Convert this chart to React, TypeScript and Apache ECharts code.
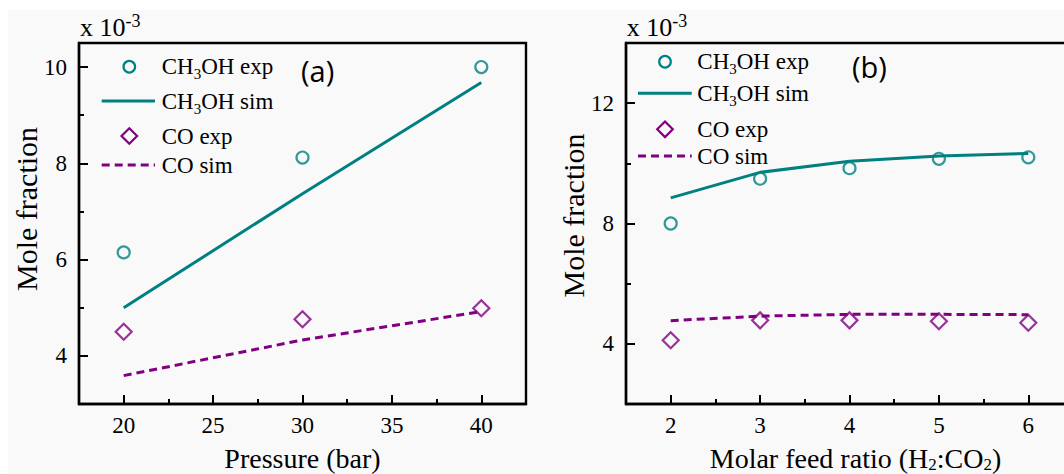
import React, { useEffect, useRef } from 'react';
import * as echarts from 'echarts';

// ---------- data (values in units of 10^-3) ----------
const pressure = [20, 30, 40];
const ch3ohExpA = [6.15, 8.12, 10.0];
const ch3ohSimA = [5.0, 7.37, 9.68];
const coExpA = [4.5, 4.76, 4.99];
const coSimA = [3.59, 4.33, 4.92];

const feedRatio = [2, 3, 4, 5, 6];
const ch3ohExpB = [8.0, 9.49, 9.84, 10.15, 10.2];
const ch3ohSimB = [8.85, 9.7, 10.07, 10.24, 10.33];
const coExpB = [4.12, 4.78, 4.78, 4.75, 4.7];
const coSimB = [4.77, 4.92, 4.98, 4.98, 4.97];

// ---------- tick labels ----------
const pressureTicks = [20, 25, 30, 35, 40];
const pressureMinorTicks = [22.5, 27.5, 32.5, 37.5];
const ratioTicks = [2, 3, 4, 5, 6];
const ratioMinorTicks = [2.5, 3.5, 4.5, 5.5];
const fractionTicksA = [4, 6, 8, 10];
const fractionMinorTicksA = [5, 7, 9];
const fractionTicksB = [4, 8, 12];
const fractionMinorTicksB = [6, 10];

const legendNames = ['CH3OH exp', 'CH3OH sim', 'CO exp', 'CO sim'];
const panelLabels = ['(a)', '(b)'];
const xNames = ['Pressure (bar)', 'Molar feed ratio (H{sub|2}:CO{sub|2})'];
const yName = 'Mole fraction';
const multiplier = 'x 10{sup|-3}';

const TEAL = '#008080';
const PURPLE = '#800080';
const SERIF = '"Liberation Serif", "Times New Roman", serif';
const SANS = '"Open Sans", "Noto Sans", sans-serif';
const FRAME = 2.4;

const subRich = {
  sub: { fontSize: 15, lineHeight: 14, verticalAlign: 'bottom', fontFamily: SERIF, fill: '#000', color: '#000' },
};

const pairs = (xs: number[], ys: number[]) => xs.map((x, i) => [x, ys[i]]);

const xMajor = (gridIndex: number, min: number, max: number, ticks: number[], name: string, pad: number) => ({
  type: 'value', gridIndex, min, max, position: 'bottom',
  axisLine: { show: true, onZero: false, lineStyle: { color: '#000', width: FRAME } },
  axisTick: { show: true, inside: true, length: 9, customValues: ticks, lineStyle: { color: '#000', width: 2 } },
  axisLabel: { show: true, customValues: ticks, margin: 10, fontSize: 23, fontFamily: SERIF, color: '#000' },
  splitLine: { show: false },
  minorTick: { show: false },
  name, nameLocation: 'middle', nameGap: 39, nameMoveOverlap: false,
  nameTextStyle: {
    fontSize: 28, fontFamily: SERIF, color: '#000', lineHeight: 30, padding: [0, 0, 0, pad],
    rich: { sub: { fontSize: 17, lineHeight: 20, verticalAlign: 'bottom', fontFamily: SERIF, color: '#000' } },
  },
});

const xMinor = (gridIndex: number, min: number, max: number, ticks: number[]) => ({
  type: 'value', gridIndex, min, max, position: 'bottom',
  axisLine: { show: false, onZero: false },
  axisTick: { show: true, inside: true, length: 5, customValues: ticks, lineStyle: { color: '#000', width: 2 } },
  axisLabel: { show: false },
  splitLine: { show: false },
});

const yMajor = (gridIndex: number, min: number, max: number, ticks: number[], pad: number) => ({
  type: 'value', gridIndex, min, max, position: 'left',
  axisLine: { show: true, onZero: false, lineStyle: { color: '#000', width: FRAME } },
  axisTick: { show: true, inside: true, length: 9, customValues: ticks, lineStyle: { color: '#000', width: 2 } },
  axisLabel: { show: true, customValues: ticks, margin: 12, fontSize: 23, fontFamily: SERIF, color: '#000' },
  splitLine: { show: false },
  name: yName, nameLocation: 'middle', nameGap: 38, nameMoveOverlap: false,
  nameTextStyle: { fontSize: 30, fontFamily: SERIF, color: '#000', padding: [0, 0, 0, pad] },
});

const yMinor = (gridIndex: number, min: number, max: number, ticks: number[]) => ({
  type: 'value', gridIndex, min, max, position: 'left',
  axisLine: { show: false, onZero: false },
  axisTick: { show: true, inside: true, length: 5, customValues: ticks, lineStyle: { color: '#000', width: 2 } },
  axisLabel: { show: false },
  splitLine: { show: false },
});

const panelSeries = (axis: number, xs: number[], chExp: number[], chSim: number[], coE: number[], coS: number[]) => [
  {
    type: 'line', name: legendNames[1], xAxisIndex: axis, yAxisIndex: axis, data: pairs(xs, chSim),
    symbol: 'none', lineStyle: { color: TEAL, width: 3 }, itemStyle: { color: TEAL }, z: 2,
  },
  {
    type: 'line', name: legendNames[3], xAxisIndex: axis, yAxisIndex: axis, data: pairs(xs, coS),
    symbol: 'none', lineStyle: { color: PURPLE, width: 3, type: [8, 5] }, itemStyle: { color: PURPLE }, z: 2,
  },
  {
    type: 'scatter', name: legendNames[0], xAxisIndex: axis, yAxisIndex: axis, data: pairs(xs, chExp),
    symbol: 'circle', symbolSize: 12,
    itemStyle: { color: 'rgba(0,0,0,0)', borderColor: TEAL, borderWidth: 2.2 }, z: 3,
  },
  {
    type: 'scatter', name: legendNames[2], xAxisIndex: axis, yAxisIndex: axis, data: pairs(xs, coE),
    symbol: 'diamond', symbolSize: 16,
    itemStyle: { color: 'rgba(0,0,0,0)', borderColor: PURPLE, borderWidth: 2.2 }, z: 3,
  },
];

const richName = (n: string) => n.replace('CH3OH', 'CH{sub|3}OH');

const legendGraphics = (lx1: number, lx2: number, mcx: number, tx: number, ys: number[]) => {
  const txt = (name: string, y: number) => ({
    type: 'text', x: tx, y, silent: true,
    style: {
      text: richName(name), fontSize: 23, fontFamily: SERIF, fill: '#000', lineHeight: 30,
      align: 'left', verticalAlign: 'middle', textAlign: 'left', textVerticalAlign: 'middle',
      rich: subRich,
    },
  });
  const d = 7.8;
  return [
    { type: 'circle', silent: true, shape: { cx: mcx, cy: ys[0], r: 5.8 }, style: { fill: 'none', stroke: TEAL, lineWidth: 2.2 } },
    txt(legendNames[0], ys[0]),
    { type: 'line', silent: true, shape: { x1: lx1, y1: ys[1], x2: lx2, y2: ys[1] }, style: { stroke: TEAL, lineWidth: 3 } },
    txt(legendNames[1], ys[1]),
    {
      type: 'polygon', silent: true,
      shape: { points: [[mcx, ys[2] - d], [mcx + d, ys[2]], [mcx, ys[2] + d], [mcx - d, ys[2]]] },
      style: { fill: 'none', stroke: PURPLE, lineWidth: 2.2 },
    },
    txt(legendNames[2], ys[2]),
    { type: 'line', silent: true, shape: { x1: lx1, y1: ys[3], x2: lx2, y2: ys[3] }, style: { stroke: PURPLE, lineWidth: 3, lineDash: [8, 5] } },
    txt(legendNames[3], ys[3]),
  ];
};

const textEl = (text: string, x: number, y: number, fontSize: number, family: string, rich?: any) => ({
  type: 'text', x, y, silent: true,
  style: {
    text, fontSize, fontFamily: family, fill: '#000', lineHeight: 30,
    align: 'left', verticalAlign: 'middle', textAlign: 'left', textVerticalAlign: 'middle',
    rich,
  },
});

const supRich = { sup: { fontSize: 18, lineHeight: 18, verticalAlign: 'top', fontFamily: SERIF, fill: '#000' } };

export default function App() {
  const ref = useRef<HTMLDivElement>(null);
  useEffect(() => {
    if (!ref.current) return;
    const chart = echarts.init(ref.current, undefined, { renderer: 'svg' });
    const option: any = {
      animation: false,
      backgroundColor: 'transparent',
      textStyle: { fontFamily: SERIF },
      grid: [
        { left: 79, top: 43, width: 447, height: 361, show: true, borderColor: '#000', borderWidth: FRAME, backgroundColor: 'transparent', containLabel: false, outerBoundsMode: 'none' },
        { left: 626, top: 43, width: 447, height: 361, show: true, borderColor: '#000', borderWidth: FRAME, backgroundColor: 'transparent', containLabel: false, outerBoundsMode: 'none' },
      ],
      xAxis: [
        xMajor(0, 17.5, 42.5, pressureTicks, xNames[0], 0),
        xMajor(1, 1.5, 6.5, ratioTicks, xNames[1], 12),
        xMinor(0, 17.5, 42.5, pressureMinorTicks),
        xMinor(1, 1.5, 6.5, ratioMinorTicks),
      ],
      yAxis: [
        yMajor(0, 3, 10.5, fractionTicksA, 29),
        yMajor(1, 2, 14, fractionTicksB, 16),
        yMinor(0, 3, 10.5, fractionMinorTicksA),
        yMinor(1, 2, 14, fractionMinorTicksB),
      ],
      series: [
        ...panelSeries(0, pressure, ch3ohExpA, ch3ohSimA, coExpA, coSimA),
        ...panelSeries(1, feedRatio, ch3ohExpB, ch3ohSimB, coExpB, coSimB),
      ],
      graphic: [
        ...legendGraphics(101.7, 155, 129.3, 161.7, [66.7, 101, 136, 165]),
        ...legendGraphics(638, 691.7, 665, 697.3, [61.7, 93.3, 129.3, 156]),
        textEl(panelLabels[0], 301, 70, 29, SANS),
        textEl(panelLabels[1], 852, 66.7, 29, SANS),
        textEl(multiplier, 80, 27, 26, SERIF, supRich),
        textEl(multiplier, 626.7, 27, 26, SERIF, supRich),
      ],
    };
    chart.setOption(option);
    return () => chart.dispose();
  }, []);
  return (
    <div style={{ position: 'fixed', left: 0, top: 0, width: 1064, height: 474, background: '#ffffff', overflow: 'hidden' }}>
      <div style={{ position: 'absolute', left: 8, top: 10, right: 0, bottom: 0, background: '#f9f9f9' }} />
      <div ref={ref} style={{ position: 'absolute', left: 0, top: 0, width: 1064, height: 474 }} />
    </div>
  );
}
